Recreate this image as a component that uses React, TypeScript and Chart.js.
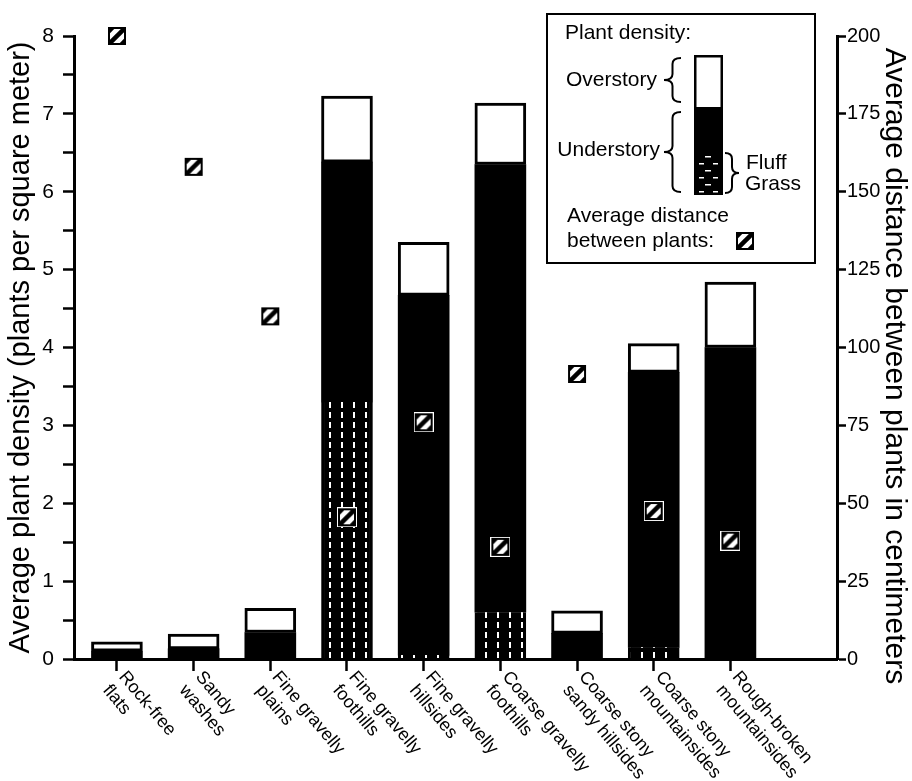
import React, { useEffect, useRef } from 'react';
import { Chart, registerables } from 'chart.js';

Chart.register(...registerables);

// Habitat types along the x axis (two text lines each)
const categories: string[][] = [
  ['Rock-free', 'flats'],
  ['Sandy', 'washes'],
  ['Fine gravelly', 'plains'],
  ['Fine gravelly', 'foothills'],
  ['Fine gravelly', 'hillsides'],
  ['Coarse gravelly', 'foothills'],
  ['Coarse stony', 'sandy hillsides'],
  ['Coarse stony', 'mountainsides'],
  ['Rough-broken', 'mountainsides'],
];

// Plant density, plants per square meter
const understory = [0.1, 0.13, 0.34, 6.38, 4.67, 6.35, 0.33, 3.68, 4.0];
const fluffGrass = [0, 0, 0, 3.3, 0.05, 0.6, 0, 0.15, 0];
const overstory = [0.12, 0.19, 0.31, 0.85, 0.68, 0.79, 0.29, 0.37, 0.84];

// Average distance between plants, centimeters
const distance = [200, 158, 110, 45.5, 76, 36, 91.5, 47.5, 38];

// Axis ticks
const densityTicks = [0, 0.5, 1, 1.5, 2, 2.5, 3, 3.5, 4, 4.5, 5, 5.5, 6, 6.5, 7, 7.5, 8];
const distanceTicks = [0, 25, 50, 75, 100, 125, 150, 175, 200];

const FONT = "'Liberation Sans', Arial, Helvetica, sans-serif";
const RIGHT_TITLE = 'Average distance between plants in centimeters';

// Hatched square used for the distance series
function makeMarker(): HTMLCanvasElement {
  const s = 20;
  const m = document.createElement('canvas');
  m.width = s;
  m.height = s;
  const c = m.getContext('2d')!;
  c.fillStyle = '#fff';
  c.fillRect(0, 0, s, s);
  c.save();
  c.beginPath();
  c.rect(2, 2, s - 4, s - 4);
  c.clip();
  c.strokeStyle = '#000';
  c.lineWidth = 4.5;
  for (const off of [-13, 0, 13]) {
    c.beginPath();
    c.moveTo(off, s);
    c.lineTo(off + s, 0);
    c.stroke();
  }
  c.restore();
  c.lineWidth = 2;
  c.strokeStyle = '#000';
  c.strokeRect(2, 2, s - 4, s - 4);
  return m;
}

function makeFluffPattern(ctx: CanvasRenderingContext2D): CanvasPattern | string {
  const t = document.createElement('canvas');
  t.width = 12;
  t.height = 10;
  const c = t.getContext('2d')!;
  c.fillStyle = '#000';
  c.fillRect(0, 0, 12, 10);
  c.fillStyle = '#fff';
  c.fillRect(5, 2, 2, 6);
  return ctx.createPattern(t, 'repeat') || '#000';
}

function brace(ctx: CanvasRenderingContext2D, tipX: number, endX: number, y1: number, y2: number) {
  const midX = (tipX + endX) / 2;
  const ym = (y1 + y2) / 2;
  const r = Math.min(6, (y2 - y1) / 4);
  ctx.beginPath();
  ctx.moveTo(endX, y1);
  ctx.quadraticCurveTo(midX, y1, midX, y1 + r);
  ctx.lineTo(midX, ym - r);
  ctx.quadraticCurveTo(midX, ym, tipX, ym);
  ctx.quadraticCurveTo(midX, ym, midX, ym + r);
  ctx.lineTo(midX, y2 - r);
  ctx.quadraticCurveTo(midX, y2, endX, y2);
  ctx.stroke();
}

export default function App() {
  const ref = useRef<HTMLCanvasElement>(null);

  useEffect(() => {
    const canvas = ref.current!;
    const ctx = canvas.getContext('2d')!;
    const marker = makeMarker();
    const fluffFill = makeFluffPattern(ctx);

    const otherUnderstory = understory.map((u, i) => u - fluffGrass[i]);

    // Habitat names, slanted downward to the right from each tick
    const xLabels = {
      id: 'xLabels',
      afterDraw(chart: any) {
        const c = chart.ctx as CanvasRenderingContext2D;
        const xs = chart.scales.x;
        const bottom = chart.chartArea.bottom;
        c.save();
        c.fillStyle = '#000';
        c.font = `18px ${FONT}`;
        c.textAlign = 'left';
        c.textBaseline = 'top';
        categories.forEach((lines, i) => {
          const px = xs.getPixelForValue(i);
          c.save();
          c.translate(px + 12, bottom + 9);
          c.rotate((50 * Math.PI) / 180);
          lines.forEach((ln, k) => c.fillText(ln, 0, k * 21));
          c.restore();
        });
        c.restore();
      },
    };

    // Right-hand axis title, reading top to bottom
    const rightTitle = {
      id: 'rightTitle',
      afterDraw(chart: any) {
        const c = chart.ctx as CanvasRenderingContext2D;
        c.save();
        c.fillStyle = '#000';
        c.font = `30px ${FONT}`;
        c.textAlign = 'center';
        c.textBaseline = 'middle';
        c.translate(894, 366);
        c.rotate(Math.PI / 2);
        c.fillText(RIGHT_TITLE, 0, 0);
        c.restore();
      },
    };

    const legendBox = {
      id: 'legendBox',
      afterDraw(chart: any) {
        const c = chart.ctx as CanvasRenderingContext2D;
        c.save();
        c.fillStyle = '#fff';
        c.fillRect(547, 14, 268, 249);
        c.strokeStyle = '#000';
        c.lineWidth = 2;
        c.strokeRect(547, 14, 268, 249);

        c.fillStyle = '#000';
        c.font = `21px ${FONT}`;
        c.textBaseline = 'middle';
        c.textAlign = 'left';
        c.fillText('Plant density:', 565, 33);
        c.textAlign = 'right';
        c.fillText('Overstory', 657, 80);
        c.fillText('Understory', 660, 150);
        c.textAlign = 'left';
        c.fillText('Fluff', 746, 163);
        c.fillText('Grass', 745, 184);
        c.fillText('Average distance', 567, 216);
        c.fillText('between plants:', 567, 241);

        // sample stacked bar
        c.fillStyle = '#000';
        c.fillRect(694, 108, 29, 87);
        c.fillStyle = '#fff';
        c.fillRect(695, 56, 27, 52);
        c.lineWidth = 2.5;
        c.strokeStyle = '#000';
        c.strokeRect(695.25, 56.25, 26.5, 52);
        c.fillStyle = '#fff';
        for (let k = 0; k < 6; k++) {
          const y = 156 + k * 7;
          if (k % 2 === 0) {
            c.fillRect(705, y, 6, 1.5);
          } else {
            c.fillRect(699, y, 5, 1.5);
            c.fillRect(713, y, 5, 1.5);
          }
        }

        c.strokeStyle = '#000';
        c.lineWidth = 2;
        brace(c, 664, 681, 58, 102);
        brace(c, 664, 681, 112, 192);
        brace(c, 739, 725, 153, 193);

        c.drawImage(marker, 745 - 10, 241 - 10);
        c.restore();
      },
    };

    const tickFont = { family: FONT, size: 21 };
    const titleFont = { family: FONT, size: 29, weight: 'normal' as const };

    const chart = new Chart(ctx, {
      type: 'bar',
      data: {
        datasets: [
          {
            type: 'scatter' as any,
            label: 'Average distance between plants',
            data: distance.map((d, i) => ({ x: i, y: d })),
            yAxisID: 'y2',
            pointStyle: marker as any,
            pointRadius: 10,
            clip: false as any,
            order: 0,
          } as any,
          {
            label: 'Fluff grass',
            data: fluffGrass.map((v, i) => ({ x: i, y: v })),
            backgroundColor: fluffFill as any,
            borderColor: '#000',
            borderWidth: { left: 3, right: 3, top: 0, bottom: 0 },
            borderSkipped: false,
            barThickness: 51,
            yAxisID: 'y',
            order: 1,
          },
          {
            label: 'Understory',
            data: otherUnderstory.map((v, i) => ({ x: i, y: v })),
            backgroundColor: '#000',
            borderWidth: 0,
            barThickness: 51,
            yAxisID: 'y',
            order: 1,
          },
          {
            label: 'Overstory',
            data: overstory.map((v, i) => ({ x: i, y: v })),
            backgroundColor: '#fff',
            borderColor: '#000',
            borderWidth: 3,
            borderSkipped: false,
            barThickness: 51,
            yAxisID: 'y',
            order: 1,
          },
        ],
      },
      options: {
        animation: false,
        responsive: false,
        maintainAspectRatio: false,
        events: [],
        layout: { padding: { top: 36, left: 0, right: 0, bottom: 0 } },
        plugins: { legend: { display: false }, tooltip: { enabled: false } },
        scales: {
          x: {
            type: 'linear',
            min: -0.56,
            max: 9.39,
            stacked: true,
            offset: false,
            afterBuildTicks: (s: any) => {
              s.ticks = categories.map((_, i) => ({ value: i }));
            },
            afterFit: (s: any) => {
              s.height = 122;
            },
            ticks: { display: false },
            grid: {
              offset: false,
              drawOnChartArea: false,
              drawTicks: true,
              tickLength: 12,
              tickWidth: 2.5,
              tickColor: '#000',
              color: '#000',
            },
            border: { display: true, color: '#000', width: 3 },
          },
          y: {
            position: 'left',
            min: 0,
            max: 8,
            stacked: true,
            afterBuildTicks: (s: any) => {
              s.ticks = densityTicks.map((v) => ({ value: v }));
            },
            afterFit: (s: any) => {
              s.width = 74;
            },
            ticks: {
              autoSkip: false,
              padding: 9,
              color: '#000',
              font: tickFont,
              callback: (v: any) => (Number.isInteger(v) ? String(v) : ''),
            },
            grid: {
              drawOnChartArea: false,
              drawTicks: true,
              tickLength: 11,
              tickWidth: 2.5,
              tickColor: '#000',
              color: '#000',
            },
            border: { display: true, color: '#000', width: 3 },
            title: {
              display: true,
              text: 'Average plant density (plants per square meter)',
              color: '#000',
              font: titleFont,
              padding: { top: 4, bottom: 0 },
            },
          },
          y2: {
            position: 'right',
            min: 0,
            max: 200,
            afterBuildTicks: (s: any) => {
              s.ticks = distanceTicks.map((v) => ({ value: v }));
            },
            afterFit: (s: any) => {
              s.width = 75;
            },
            ticks: { autoSkip: false, padding: 1, color: '#000', font: { family: FONT, size: 20 } },
            grid: {
              drawOnChartArea: false,
              drawTicks: true,
              tickLength: 9,
              tickWidth: 2.5,
              tickColor: '#000',
              color: '#000',
            },
            border: { display: true, color: '#000', width: 3 },
          },
        },
      },
      plugins: [xLabels, legendBox, rightTitle],
    } as any);

    return () => chart.destroy();
  }, []);

  return (
    <div style={{ position: 'fixed', left: 0, top: 0, width: 912, height: 781, background: '#fff' }}>
      <canvas ref={ref} width={912} height={781} style={{ width: 912, height: 781, display: 'block' }} />
    </div>
  );
}
